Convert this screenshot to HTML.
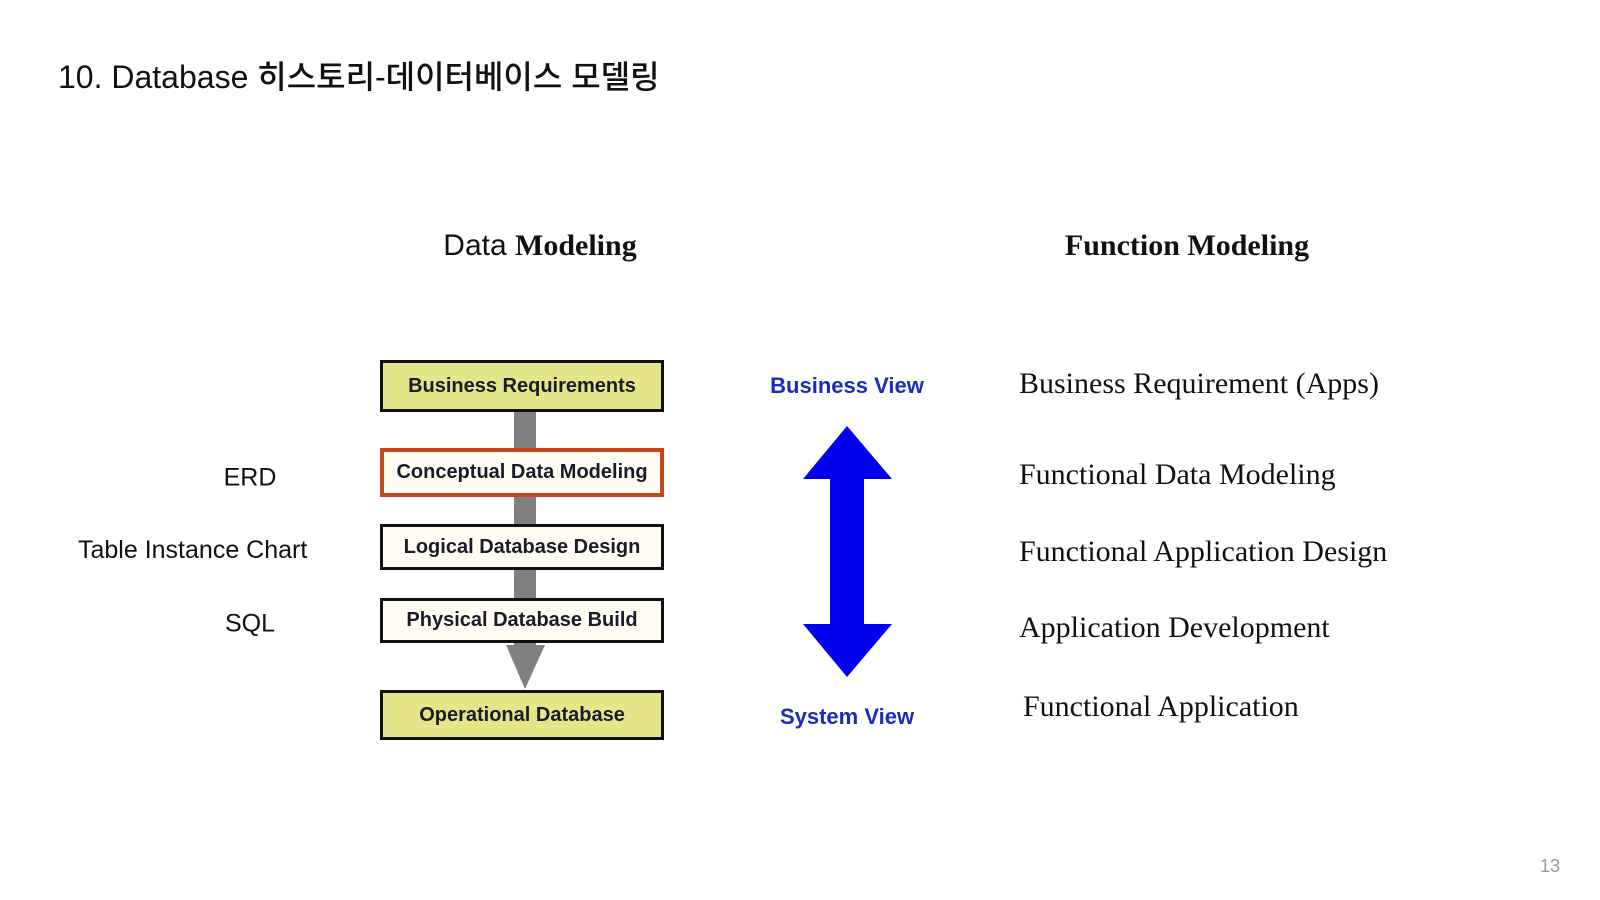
<!DOCTYPE html>
<html><head><meta charset="utf-8"><style>
body{margin:0;width:1600px;height:900px;background:#fff;position:relative;overflow:hidden;font-family:"Liberation Sans","Noto Sans CJK KR",sans-serif}
.a{position:absolute;white-space:nowrap}
.t{transform:translate(-50%,-50%)}
.box{position:absolute;left:380px;width:284px;box-sizing:border-box;border:3px solid #111;display:flex;align-items:center;justify-content:center;font-weight:bold;font-size:20px;color:#1a1a2a;background:#fffdf2}
.y{background:#e5e58a}
.serif{font-family:"Liberation Serif",serif;font-size:30px;color:#111}
.lab{font-size:25px;color:#111}
</style></head><body>
<div class="a" style="left:58px;top:52px;font-size:32px;color:#111;font-weight:500">10. Database 히스토리-데이터베이스 모델링</div>
<div class="a t" style="left:540px;top:246px;font-size:30px;color:#111"><span>Data</span> <b class="serif" style="font-size:30px">Modeling</b></div>
<div class="a t serif" style="left:1187px;top:246px;font-weight:bold">Function Modeling</div>

<div class="a" style="left:514px;top:412px;width:22px;height:234px;background:#808080"></div>
<svg class="a" style="left:0;top:0" width="1600" height="900"><polygon points="506,645 545,645 525,689" fill="#808080"/>
<polygon points="847,426 892,479 864,479 864,624 892,624 847,677 803,624 830,624 830,479 803,479" fill="#0000ee"/></svg>

<div class="box y" style="top:360px;height:52px">Business Requirements</div>
<div class="box" style="top:448px;height:49px;border:4px solid #c8451c">Conceptual Data Modeling</div>
<div class="box" style="top:524px;height:46px">Logical Database Design</div>
<div class="box" style="top:598px;height:45px">Physical Database Build</div>
<div class="box y" style="top:690px;height:50px">Operational Database</div>

<div class="a t" style="left:847px;top:386px;font-size:22px;font-weight:bold;color:#1a2bc0">Business View</div>
<div class="a t" style="left:847px;top:717px;font-size:22px;font-weight:bold;color:#1a2bc0">System View</div>

<div class="a t lab" style="left:250px;top:478px">ERD</div>
<div class="a lab" style="left:78px;top:536px">Table Instance Chart</div>
<div class="a t lab" style="left:250px;top:624px">SQL</div>

<div class="a serif" style="left:1019px;top:367px">Business Requirement (Apps)</div>
<div class="a serif" style="left:1019px;top:458px">Functional Data Modeling</div>
<div class="a serif" style="left:1019px;top:535px">Functional Application Design</div>
<div class="a serif" style="left:1019px;top:611px">Application Development</div>
<div class="a serif" style="left:1023px;top:690px">Functional Application</div>

<div class="a" style="left:1540px;top:856px;font-size:18px;color:#999">13</div>
</body></html>
